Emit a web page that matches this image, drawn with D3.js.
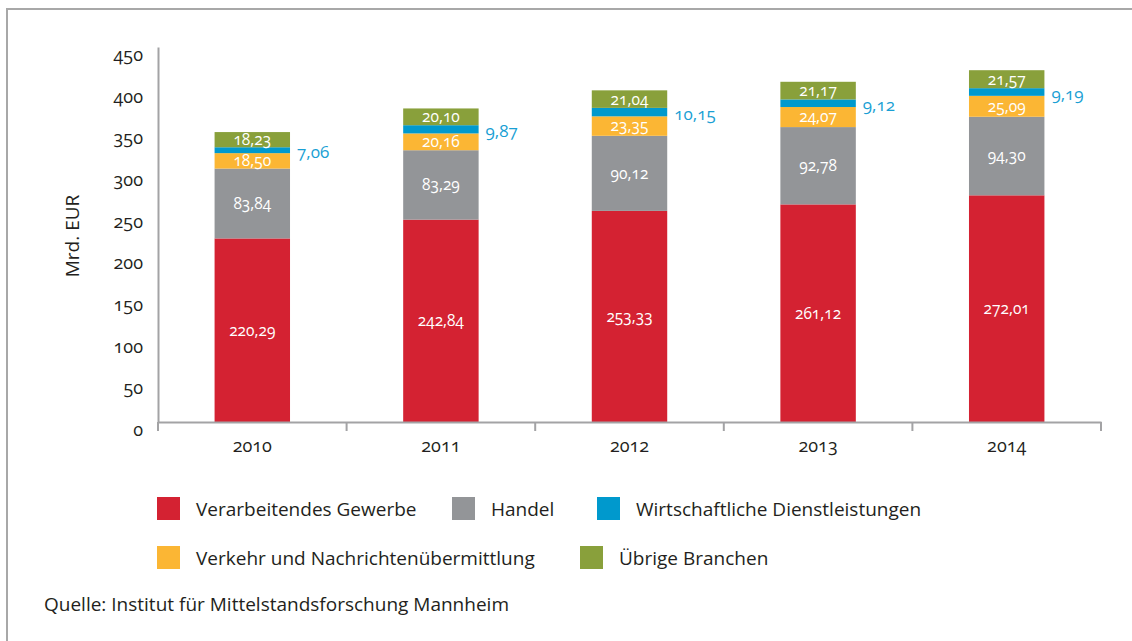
<!DOCTYPE html>
<head>
  <meta charset="utf-8">
  <script src="https://d3js.org/d3.v7.min.js"></script>
  <style>
    body { margin: 0; background: #fff; }
    svg, svg text { font-family: 'Open Sans', sans-serif; font-feature-settings: "onum"; }
    .axis path, .axis line { stroke: #a3a3a5; stroke-width: 2px; }
    .axis text { fill: #231f20; font-size: 18px; }
  </style>
</head>
<body>
  <svg width="1132" height="641"></svg>
  <script>
    var years = ['2010', '2011', '2012', '2013', '2014'];
    var verarbeitend = [220.29, 242.84, 253.33, 261.12, 272.01];
    var handel = [83.84, 83.29, 90.12, 92.78, 94.30];
    var verkehr = [18.50, 20.16, 23.35, 24.07, 25.09];
    var dienst = [7.06, 9.87, 10.15, 9.12, 9.19];
    var uebrige = [18.23, 20.10, 21.04, 21.17, 21.57];
    var yTicks = [0, 50, 100, 150, 200, 250, 300, 350, 400, 450];

    // stacking order bottom -> top
    var series = [
      {key: 'verarbeitend', name: 'Verarbeitendes Gewerbe', values: verarbeitend, color: '#d42232'},
      {key: 'handel', name: 'Handel', values: handel, color: '#939598'},
      {key: 'verkehr', name: 'Verkehr und Nachrichtenübermittlung', values: verkehr, color: '#fbb634'},
      {key: 'dienst', name: 'Wirtschaftliche Dienstleistungen', values: dienst, color: '#0099cd'},
      {key: 'uebrige', name: 'Übrige Branchen', values: uebrige, color: '#89a03b'}
    ];

    var rows = years.map(function(y, i) {
      var r = {year: y};
      series.forEach(function(s) { r[s.key] = s.values[i]; });
      return r;
    });

    var svg = d3.select('svg');
    var fmt = function(v) { return v.toFixed(2).replace('.', ','); };

    // frame
    svg.append('path')
      .attr('d', 'M7,641 L7,9 L1132,9')
      .attr('fill', 'none')
      .attr('stroke', '#a8a8a8')
      .attr('stroke-width', 2);

    var x = d3.scaleBand().domain(years).range([158, 1101]).paddingInner(0).paddingOuter(0);
    var y = d3.scaleLinear().domain([0, 450]).range([422, 47]);
    var barW = x.bandwidth() * 0.4;

    var stack = d3.stack().keys(series.map(function(s) { return s.key; }));
    var layers = stack(rows);

    var g = svg.selectAll('g.layer')
      .data(layers).enter().append('g')
      .attr('class', 'layer')
      .attr('fill', function(d, i) { return series[i].color; });

    g.selectAll('rect')
      .data(function(d) { return d; })
      .enter().append('rect')
      .attr('x', function(d) { return x(d.data.year) + (x.bandwidth() - barW) / 2; })
      .attr('width', barW)
      .attr('y', function(d) { return y(d[1]); })
      .attr('height', function(d) { return y(d[0]) - y(d[1]); });

    // value labels
    layers.forEach(function(layer, i) {
      var s = series[i];
      var side = s.key === 'dienst';
      svg.append('g').selectAll('text')
        .data(layer).enter().append('text')
        .attr('x', function(d) {
          var cx = x(d.data.year) + x.bandwidth() / 2;
          return side ? cx + barW / 2 + 7 : cx;
        })
        .attr('y', function(d) {
          var cy = (y(d[0]) + y(d[1])) / 2;
          return side ? cy + 2 : cy;
        })
        .attr('dy', '0.35em')
        .attr('text-anchor', side ? 'start' : 'middle')
        .attr('fill', side ? '#1a9fd4' : '#fff')
        .style('font-size', side ? '17px' : '15.5px')
        .text(function(d) { return fmt(d[1] - d[0]); });
    });

    // axes
    var xAxis = svg.append('g').attr('class', 'axis')
      .attr('transform', 'translate(0,' + y(0) + ')')
      .call(d3.axisBottom(x).tickSize(0).tickSizeOuter(0));
    xAxis.selectAll('text').attr('dy', '1.5em');
    // boundary ticks between categories
    var bounds = years.map(function(yr) { return x(yr); }).concat([x.range()[1]]);
    xAxis.selectAll('line.bound')
      .data(bounds).enter().append('line')
      .attr('class', 'bound')
      .attr('x1', function(d) { return d; })
      .attr('x2', function(d) { return d; })
      .attr('y1', 0).attr('y2', 9);

    var yAxis = svg.append('g').attr('class', 'axis')
      .attr('transform', 'translate(' + x.range()[0] + ',0)')
      .call(d3.axisLeft(y).tickValues(yTicks).tickSize(0).tickSizeOuter(0).tickPadding(15));
    yAxis.selectAll('text').attr('dy', '0.75em');

    svg.append('text')
      .attr('transform', 'translate(79,236)rotate(-90)')
      .attr('text-anchor', 'middle')
      .attr('fill', '#231f20')
      .style('font-size', '19px')
      .text('Mrd. EUR');

    // legend
    var legendItems = [
      {s: series[0], x: 157, y: 497},
      {s: series[1], x: 452, y: 497},
      {s: series[3], x: 597, y: 497},
      {s: series[2], x: 157, y: 546},
      {s: series[4], x: 580, y: 546}
    ];
    var lg = svg.append('g').selectAll('g')
      .data(legendItems).enter().append('g')
      .attr('transform', function(d) { return 'translate(' + d.x + ',' + d.y + ')'; });
    lg.append('rect').attr('width', 23).attr('height', 23)
      .attr('fill', function(d) { return d.s.color; });
    lg.append('text').attr('x', 39).attr('y', 12).attr('dy', '0.35em')
      .attr('fill', '#231f20').style('font-size', '19px')
      .text(function(d) { return d.s.name; });

    svg.append('text')
      .attr('x', 44).attr('y', 604).attr('dy', '0.35em')
      .attr('fill', '#231f20').style('font-size', '19px')
      .text('Quelle: Institut für Mittelstandsforschung Mannheim');
  </script>
</body>
